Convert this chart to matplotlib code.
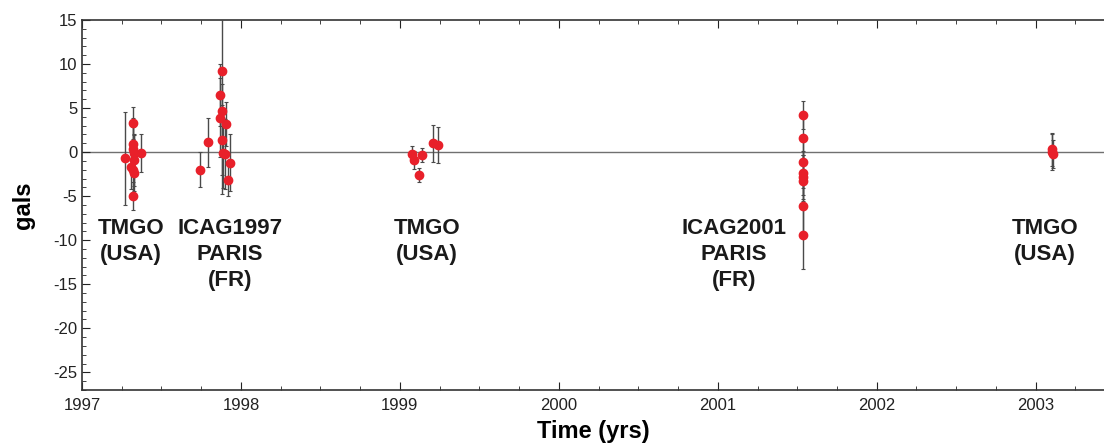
import numpy as np
import matplotlib.pyplot as plt
from matplotlib.ticker import MultipleLocator

# gravity residuals (gals) vs time (decimal years), with 1-sigma errors
t = np.array([1997.27, 1997.32, 1997.32, 1997.32, 1997.33, 1997.33, 1997.31, 1997.32, 1997.33, 1997.32, 1997.37,
              1997.74, 1997.79, 1997.88, 1997.865, 1997.88, 1997.865, 1997.905, 1997.88, 1997.89, 1997.90, 1997.93, 1997.92,
              1999.075, 1999.09, 1999.12, 1999.14, 1999.21, 1999.24,
              2001.535, 2001.535, 2001.535, 2001.535, 2001.535, 2001.535, 2001.535, 2001.535,
              2003.10, 2003.105, 2003.11])
g = np.array([-0.7, 3.3, 0.9, 0.3, -0.1, -0.9, -1.7, -2.0, -2.4, -5.0, -0.1,
              -2.0, 1.1, 9.2, 6.5, 4.7, 3.9, 3.2, 1.4, -0.1, -0.2, -1.2, -3.2,
              -0.2, -0.9, -2.6, -0.3, 1.0, 0.8,
              4.2, 1.6, -1.1, -2.4, -2.8, -3.3, -6.1, -9.4,
              0.3, 0.0, -0.2])
err = np.array([5.3, 1.8, 3.0, 2.5, 2.0, 3.0, 2.5, 2.5, 2.0, 1.6, 2.2,
                2.0, 2.8, 14.0, 3.5, 3.0, 4.5, 2.5, 4.0, 4.0, 4.0, 3.2, 1.8,
                0.9, 1.0, 0.8, 0.8, 2.1, 2.0,
                1.6, 2.5, 3.0, 2.5, 2.5, 3.0, 3.0, 3.9,
                1.9, 2.0, 1.6])

campaigns = ['TMGO\n(USA)', 'ICAG1997\nPARIS\n(FR)', 'TMGO\n(USA)', 'ICAG2001\nPARIS\n(FR)', 'TMGO\n(USA)']
camp_t = [1997.31, 1997.93, 1999.17, 2001.1, 2003.06]

plt.rcParams['font.family'] = ['Liberation Sans Narrow', 'Liberation Sans', 'DejaVu Sans']
plt.rcParams['axes.unicode_minus'] = False

fig = plt.figure(figsize=(11.04, 4.48), dpi=100)
ax = fig.add_axes([0.0743, 0.1295, 0.9257, 0.826])

ax.axhline(0, color='#707070', lw=1.0, zorder=1)
ax.errorbar(t, g, yerr=err, fmt='o', color='#e8202a', ms=6, mec='#e8202a',
            ecolor='#4a4a4a', elinewidth=1.0, capsize=1.5, capthick=0.8, zorder=3)

for lab, tc in zip(campaigns, camp_t):
    ax.text(tc, -7.5, lab, ha='center', va='top', fontsize=16, fontweight='heavy',
            family=['Liberation Sans', 'DejaVu Sans'], linespacing=1.3, color='#1a1a1a')

ax.set_xlim(1997, 2003.43)
ax.set_ylim(-27, 15)
ax.xaxis.set_major_locator(MultipleLocator(1))
ax.xaxis.set_minor_locator(MultipleLocator(0.25))
ax.yaxis.set_major_locator(MultipleLocator(5))
ax.yaxis.set_minor_locator(MultipleLocator(1))
ax.xaxis.set_major_formatter(plt.FuncFormatter(lambda v, p: '%d' % round(v)))
ax.tick_params(which='both', direction='in', top=True, right=False, labelsize=12, colors='#222222')
ax.tick_params(which='major', length=6)
ax.tick_params(which='minor', length=3)
ax.tick_params(axis='x', pad=6)
ax.spines['right'].set_visible(False)
for s in ['left', 'bottom', 'top']:
    ax.spines[s].set_color('#333333')
    ax.spines[s].set_linewidth(1.2)

ax.set_xlabel('Time (yrs)', fontsize=17, fontweight='bold', family=['Liberation Sans', 'DejaVu Sans'], labelpad=5)
ax.set_ylabel('gals', fontsize=17, fontweight='bold', family=['Liberation Sans', 'DejaVu Sans'], labelpad=13)

plt.savefig('out.png', dpi=100)
